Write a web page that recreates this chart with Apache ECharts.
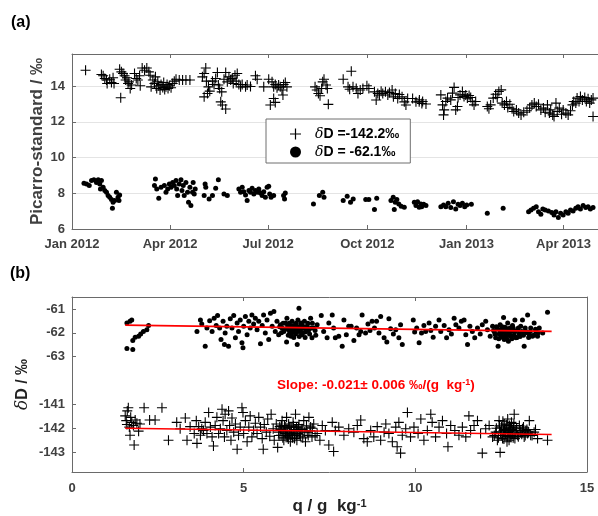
<!DOCTYPE html>
<html>
<head>
<meta charset="utf-8">
<title>Picarro-standard and δD vs q</title>
<script src="https://cdn.jsdelivr.net/npm/echarts@6/dist/echarts.min.js"></script>
<style>
  html, body { margin: 0; padding: 0; background: #fff; }
  #main { width: 598px; height: 516px; }
</style>
</head>
<body>
<div id="main"></div>
<script>
// (a) days since 2012-01-01, Picarro - standard (permil)
const plusA = [
  [12.6,14.89],[27.3,14.65],[28.9,14.58],[30.4,14.43],[32,14.34],[32.6,14.15],[35,14.39],[36.6,14.2],[38.1,14.47],[39,14.15],
  [44.2,14.95],[45.8,14.8],[45.2,13.35],[47.3,14.71],[48.8,14.58],[49.8,14.34],[51,14.47],[52,14.15],[52.8,14.24],[54,13.87],
  [55.3,14.06],[58,14.71],[59.6,14.43],[61.1,14.34],[62.7,14.58],[63.3,14.02],[65.1,15.02],[67.3,14.89],[69.4,15.02],[71.3,14.8],
  [72.5,14.61],[73.4,13.96],[75,14.34],[76.5,14.15],[77.4,14.52],[78.6,13.87],[79.6,14.24],[80.5,14.02],[81.7,13.78],[82.6,14.09],
  [84.2,13.93],[85.1,14.2],[86,13.81],[87.2,13.96],[88.2,14.09],[89.1,13.87],[90.3,14.02],[91.9,13.91],[93.4,14.15],[94.9,14.28],
  [96.5,14.39],[99.5,14.34],[102.6,14.34],[105.7,14.34],[109.4,14.34],[121,14.52],[122.6,14.71],[124.1,15.02],[124.7,14.28],[126.6,13.96],
  [127.8,13.72],[125.7,13.59],[122.6,13.4],[130.3,14.28],[131.8,14.09],[133.3,14.43],[134.9,14.76],[135.8,14.06],[137,13.87],[138.9,13.68],
  [138,13.12],[139.5,12.94],[142.6,12.72],[141,14.39],[142.6,14.76],[144.1,14.24],[145.6,14.52],[147.2,14.34],[148.7,14.43],[149.6,14.15],
  [151.2,14.61],[152.4,14.28],[153.3,14.71],[154.8,14.09],[156.4,13.96],[157.9,14.09],[161,13.96],
  [162.5,14.06],[165.6,13.98],[170.2,14.58],[171.8,14.39],[177.9,13.96],[182.5,14.39],[185.6,14.24],[187.1,13.96],[188.6,14.09],[190.2,13.91],
  [191.7,14.06],[193.2,13.96],[194.8,13.78],[196.3,14.09],[197.9,14.2],[199.4,13.96],[195.7,13.5],[187.1,13.31],[184,12.94],[188.6,13.09],
  [225.5,13.96],[227.1,13.78],[228.6,13.59],[230.1,13.46],[231.6,13.87],[232.6,14.24],[233.8,14.39],[235.7,14.06],[236.9,13.87],[237.8,12.98],
  [251.6,14.39],[259.1,14.83],[256.1,13.96],[257.6,13.83],[260.7,13.96],[263.7,13.87],[265.3,13.59],[267.4,13.78],[269.9,13.87],[273.6,14.02],
  [275.4,13.87],[280.6,13.68],[282.2,13.22],[283.7,13.59],[285.2,13.5],[286.8,13.72],[288.3,13.59],[290.8,13.68],[293,13.5],[294.5,13.65],
  [297,13.78],[298.2,13.4],[300,13.59],[302.2,13.31],[303.7,13.53],[306.2,13.4],[308.3,13.12],[309.8,12.94],[311.4,13.31],[316,13.31],
  [319.1,13.12],[322.1,13.12],[324.6,13.03],[322.3,13.23],[325.3,13.14],[328.4,13],
  [342.2,13.51],[343.8,12.95],[344.7,12.39],[345.3,12.67],[346.8,13.14],[348.4,13.33],[351.4,13.23],[353,13.61],[354.5,13.93],[356,12.67],
  [357.6,12.86],[358.2,13.36],[360,13.51],[362.2,13.7],[363.7,13.42],[365.3,13.51],[366.8,13.33],[368.4,13.48],[369.9,13.36],[371.4,13.14],
  [373,12.95],[374.5,13.14],[385.3,12.86],[386.8,12.73],[388.4,12.95],[390.8,13.33],[393,13.55],[394.5,13.36],[396,13.7],[398.2,13.79],
  [399.1,13.05],[401.2,12.95],[403.1,13.14],[404.3,12.8],[406.2,12.99],[408.3,12.73],[409.8,12.58],[412.3,12.67],[414.4,12.49],[416.6,12.39],
  [419.1,12.54],[422.1,12.62],[424.6,12.77],[426.7,12.95],[428.9,13.05],[430.7,12.86],[432.8,12.99],[435,12.67],[437.4,12.77],[439,12.54],
  [441.1,12.95],[442.9,12.49],[444.1,12.67],[446,12.39],[447.2,12.3],[449,13.05],[450.2,12.58],[452.1,12.77],[454.2,12.43],[455.7,12.67],
  [458.2,12.49],[460.3,12.39],[462.5,12.62],[464.3,12.95],[465.5,13.14],[467.4,13.05],[468.6,13.33],[470.4,13.14],[471.7,13.42],[473.5,13.23],
  [475.7,13.36],[477.2,13.14],[478.8,13.29],[480.3,13.05],[481.8,13.23],[483.4,13.33],[483.4,12.3]
];
const dotA = [
  [11.1,8.56],[13.5,8.52],[16,8.43],[18.1,8.71],[20.3,8.76],[22.7,8.61],[24.3,8.76],[25.8,8.52],[27.3,8.71],[26.4,8.24],
  [28.9,8.34],[30.4,8.15],[32,8.06],[33.5,7.87],[35,7.78],[36.6,7.65],[38.1,7.5],[37.5,7.16],[39.6,7.59],[41.2,8.06],
  [42.7,7.78],[43.6,7.59],[44.2,7.91],
  [77.4,8.8],[76.5,8.43],[78.6,8.24],[80.5,7.72],[82.6,8.34],[85.7,8.43],[87.2,8.06],[88.8,8.24],[90.3,8.52],[91.9,8.34],
  [93.4,8.61],[94.9,8.43],[96.5,8.71],[97.1,8.24],[98,7.87],[99.5,8.52],[101.1,8.76],[102,8.15],[103.2,8.43],[104.1,7.87],
  [105.7,8.61],[107.2,8.06],[108.1,7.5],[109.4,8.34],[110.3,7.31],[111.8,8.06],[112.4,8.61],[113.4,7.96],[114.3,8.24],
  [123.5,8.52],[124.1,8.34],[122.6,7.87],[127.2,7.68],[130.3,7.87],[133.3,8.28],[135.8,8.76],[141,7.96],[144.1,7.87],
  [154.8,8.24],[156.4,8.06],[157.9,8.34],[159.4,8.09],[161,7.91],[162.5,7.59],[164.1,8.15],
  [165.6,8.06],[167.1,8.28],[168.7,7.96],[170.2,8.15],[171.8,8.06],[173.3,8.24],[174.8,8.02],[176.4,7.87],[177.9,8.09],[179.4,7.78],
  [181,8.34],[182.5,8.39],[183.4,7.96],[184.7,7.78],[187.1,7.87],[196.3,7.87],[197.9,8.02],[197.2,7.68],
  [224,7.4],[229.5,7.87],[232.6,8.06],[233.8,7.78],[251.6,7.59],[255.3,7.83],[258.4,7.5],[260.9,7.68],[272.5,7.65],[275.4,7.65],
  [280.6,7.09],[282.7,7.72],[295.9,7.59],[298,7.78],[299.9,7.5],[299,7.09],[301.4,7.65],[303.2,7.4],[305.4,7.27],[308.3,7.22],
  [317.6,7.5],[319.1,7.31],[320.6,7.53],[322.1,7.22],[323.7,7.4],[324.4,7.25],[326.3,7.38],[328.4,7.31],
  [342.2,7.25],[344.7,7.35],[346.8,7.25],[349,7.44],[351.4,7.2],[353.9,7.53],[356,7.12],[358.2,7.38],[360,7.31],[362.2,7.44],
  [364.3,7.25],[366.2,7.35],[370.5,7.38],[385.3,6.88],[400,7.16],
  [423.6,6.97],[425.8,7.07],[428.2,7.16],[430.7,7.25],[432.8,6.97],[435,6.82],[436.8,7.12],[439,7.07],[442,7.01],[445.1,6.93],
  [447.2,6.78],[449,6.97],[451.2,6.64],[453.3,6.88],[455.7,6.78],[458.2,6.97],[460.3,6.88],[462.5,7.07],[464.9,7.01],[467.4,7.16],
  [469.5,7.25],[471.7,7.12],[474.2,7.31],[476.6,7.2],[478.8,7.25],[480.9,7.12],[483.4,7.2]
];

// (b) q (g/kg) vs dD (permil)
const dotB = [
  [1.6,-61.59],[1.6,-62.66],[1.69,-61.52],[1.74,-61.46],[1.77,-62.7],[1.77,-62.32],[1.84,-62.19],[1.94,-62.14],[2.0,-62.05],[2.08,-61.94],
  [2.18,-61.87],[2.23,-61.69],
  [3.64,-61.94],[3.74,-61.46],[3.78,-61.63],[3.88,-62.56],[3.93,-61.8],[4.01,-61.5],[4.08,-61.94],[4.14,-61.39],[4.2,-61.69],[4.24,-61.28],
  [4.3,-61.8],[4.34,-62.28],[4.4,-61.52],[4.44,-62.49],[4.46,-62.01],[4.51,-61.73],[4.56,-62.56],[4.61,-61.41],[4.66,-61.8],[4.71,-61.28],
  [4.76,-62.21],[4.81,-61.59],[4.85,-61.94],[4.9,-61.46],[4.95,-62.42],[4.98,-62.63],[5.0,-61.73],[5.05,-61.32],[5.1,-62.08],[5.15,-61.52],
  [5.19,-61.8],[5.24,-61.25],[5.29,-61.63],[5.34,-61.39],[5.39,-61.87],[5.44,-61.52],[5.49,-62.46],[5.54,-61.69],[5.58,-61.25],[5.63,-62.01],
  [5.68,-61.46],[5.73,-62.28],[5.78,-61.18],[5.83,-61.73],[5.88,-61.11],[5.92,-61.94],[5.97,-61.52],[6.02,-62.08],[6.07,-61.66],[6.12,-61.8],
  [6.17,-61.94],[6.22,-61.59],[6.25,-62.38],[6.26,-61.39],[6.31,-61.87],[6.34,-62.01],[6.36,-61.73],[6.38,-62.14],[6.41,-61.52],[6.44,-61.9],
  [6.48,-61.69],[6.51,-62.05],[6.54,-61.8],[6.56,-62.49],[6.58,-61.46],[6.61,-60.97],[6.63,-61.94],[6.67,-61.59],[6.7,-62.08],[6.73,-61.8],
  [6.77,-61.52],[6.8,-61.97],[6.85,-61.73],[6.9,-61.87],[6.95,-61.39],[6.99,-62.21],[7.04,-61.8],[7.14,-61.66],[7.26,-61.28],[7.33,-61.94],
  [6.05,-61.75],[6.1,-62.0],[6.15,-61.6],[6.2,-61.85],[6.28,-61.7],[6.3,-62.1],[6.33,-61.6],[6.37,-61.85],[6.4,-62.0],[6.43,-61.7],
  [6.46,-62.2],[6.5,-61.85],[6.53,-61.6],[6.57,-61.95],[6.6,-61.75],[6.62,-62.15],[6.66,-61.85],[6.69,-61.65],[6.72,-62.0],[6.76,-61.75],
  [6.79,-62.2],[6.83,-61.9],[6.87,-61.6],[6.92,-62.05],[6.97,-61.8],[7.0,-61.6],[7.08,-61.9],[7.1,-62.1],
  [7.43,-62.21],[7.48,-61.59],[7.58,-61.25],[7.62,-61.8],[7.67,-62.21],[7.77,-62.14],[7.87,-62.56],[7.92,-61.46],[7.99,-62.08],[8.06,-61.73],
  [8.13,-61.73],[8.21,-62.32],[8.29,-61.8],[8.36,-62.08],[8.41,-61.94],[8.45,-61.25],[8.55,-62.01],[8.62,-61.63],[8.68,-61.9],[8.74,-61.52],
  [8.81,-61.8],[8.87,-61.52],[8.94,-62.01],[8.99,-61.32],[9.09,-62.21],[9.17,-62.38],[9.23,-61.41],[9.28,-61.83],[9.36,-62.05],[9.43,-61.87],
  [9.52,-62.21],[9.57,-61.66],[9.62,-62.49],[9.94,-61.46],[9.98,-61.97],[10.04,-61.8],[10.11,-62.42],[10.18,-62.01],[10.25,-61.69],[10.3,-61.94],
  [10.4,-61.59],[10.45,-61.9],[10.52,-62.19],[10.59,-61.73],[10.69,-61.46],[10.74,-61.94],[10.84,-61.69],[10.91,-62.21],[10.98,-61.87],[11.05,-62.05],
  [11.13,-61.39],[11.18,-61.66],[11.27,-61.8],[11.34,-61.52],[11.42,-61.46],[11.47,-62.08],[11.52,-62.49],[11.59,-61.73],[11.66,-61.94],[11.73,-62.21],
  [11.81,-61.8],[11.89,-62.05],[11.95,-61.66],[12.05,-61.52],[12.1,-61.87],[12.18,-62.14],[12.25,-61.73],[12.3,-61.94],[12.34,-62.21],[12.39,-61.8],
  [12.41,-62.56],[12.44,-62.05],[12.47,-61.66],[12.49,-62.19],[12.51,-61.87],[12.54,-61.97],[12.57,-61.36],[12.59,-62.28],[12.61,-61.77],[12.64,-62.08],
  [12.67,-61.9],[12.69,-61.59],[12.71,-62.35],[12.74,-62.01],[12.76,-61.8],[12.78,-62.14],[12.83,-61.69],[12.86,-61.94],[12.9,-61.46],[12.93,-62.21],
  [12.98,-61.87],[13.03,-62.05],[13.07,-61.73],[13.12,-61.46],[13.17,-62.56],[13.22,-61.94],[13.27,-61.25],[13.32,-62.08],[13.36,-61.8],[13.41,-62.14],
  [13.46,-61.59],[13.51,-61.94],[13.56,-62.14],[13.61,-61.8],[13.71,-62.01],[13.85,-61.14],
  [12.28,-61.9],[12.32,-62.05],[12.36,-61.75],[12.43,-62.25],[12.46,-61.9],[12.5,-62.05],[12.53,-61.75],[12.56,-62.15],[12.6,-61.95],[12.63,-61.8],
  [12.66,-62.25],[12.7,-61.85],[12.73,-62.1],[12.77,-61.95],[12.81,-62.25],[12.85,-61.8],[12.88,-62.1],[12.92,-61.95],[12.96,-62.2],[13.0,-61.8],
  [13.05,-62.15],[13.1,-61.95],[13.15,-62.1],[13.2,-61.8],[13.25,-62.0],[13.3,-62.2],[13.35,-61.95],[13.45,-62.1],[13.5,-61.85],[13.58,-62.0]
];
const plusB = [
  [1.55,-141.48],[1.58,-141.68],[1.6,-141.84],[1.61,-141.27],[1.64,-141.14],[1.67,-141.95],[1.69,-142.29],[1.71,-141.54],[1.74,-141.75],[1.79,-141.88],
  [1.81,-142.7],[1.84,-141.65],[1.89,-141.79],[1.94,-142.12],[1.98,-141.82],[2.1,-141.14],[2.26,-141.65],[2.42,-141.65],[2.62,-141.14],[2.81,-142.5],
  [3.05,-141.75],[3.15,-142.02],[3.3,-141.57],[3.35,-142.5],[3.44,-141.93],[3.56,-142.22],[3.62,-141.68],[3.64,-142.63],[3.69,-141.93],[3.74,-142.29],
  [3.78,-142.02],[3.83,-142.09],[3.88,-141.75],[3.93,-142.22],[3.98,-141.34],[4.03,-141.95],[4.08,-142.36],[4.12,-142.74],[4.17,-141.88],[4.22,-141.54],
  [4.27,-142.22],[4.32,-142.02],[4.37,-141.2],[4.4,-141.68],[4.44,-142.36],[4.46,-141.41],[4.51,-142.09],[4.56,-141.27],[4.59,-141.88],[4.63,-142.5],
  [4.66,-141.57],[4.71,-142.16],[4.76,-141.82],[4.81,-142.88],[4.85,-142.29],[4.9,-141.95],[4.95,-141.14],[4.98,-141.34],[5.0,-142.22],[5.05,-141.68],
  [5.1,-142.56],[5.15,-141.95],[5.19,-141.48],[5.24,-142.36],[5.29,-142.09],[5.34,-141.79],[5.39,-142.22],[5.44,-141.54],[5.49,-141.95],[5.54,-142.43],
  [5.57,-142.88],[5.6,-141.84],[5.66,-142.16],[5.7,-141.61],[5.76,-142.33],[5.8,-141.41],[5.86,-142.02],[5.89,-142.5],[5.95,-141.82],[5.99,-142.8],
  [6.02,-142.16],[6.05,-141.93],[6.09,-142.29],[6.12,-141.68],[6.15,-142.09],[6.17,-142.5],[6.19,-141.88],[6.22,-142.22],[6.25,-141.54],[6.26,-142.02],
  [6.28,-142.36],[6.31,-141.82],[6.34,-142.16],[6.36,-142.56],[6.38,-141.95],[6.41,-142.29],[6.44,-141.75],[6.46,-142.09],[6.48,-142.43],[6.51,-141.41],
  [6.54,-141.95],[6.56,-142.22],[6.61,-141.84],[6.65,-142.33],[6.7,-142.02],[6.75,-141.68],[6.8,-142.56],[6.85,-142.16],[6.9,-141.54],[6.95,-141.95],
  [6.99,-142.36],[7.04,-141.82],[7.14,-142.22],[7.22,-142.5],[7.29,-141.88],[7.38,-142.09],[7.48,-142.7],
  [6.03,-142.3],[6.07,-142.05],[6.1,-141.9],[6.14,-142.4],[6.18,-142.15],[6.21,-141.95],[6.24,-142.3],[6.27,-142.1],[6.3,-142.45],[6.33,-141.95],
  [6.35,-142.25],[6.39,-142.1],[6.42,-142.4],[6.45,-141.9],[6.47,-142.2],[6.5,-142.05],[6.53,-142.3],[6.55,-142.5],[6.58,-142.1],[6.6,-141.95],
  [6.63,-142.25],[6.67,-142.05],[6.72,-142.4],[6.78,-142.15],[6.83,-141.9],[6.88,-142.3],[6.93,-142.1],[7.0,-142.0],[7.08,-142.3],
  [7.58,-141.75],[7.62,-142.97],[7.67,-142.09],[7.77,-141.95],[7.92,-142.29],[8.06,-142.02],[8.21,-142.16],[8.31,-141.88],[8.41,-141.65],[8.5,-142.43],
  [8.6,-142.56],[8.7,-142.09],[8.79,-142.36],[8.89,-141.93],[8.99,-142.5],[9.09,-142.16],[9.14,-141.82],[9.23,-142.22],[9.33,-142.56],[9.43,-141.95],
  [9.47,-142.77],[9.52,-141.75],[9.57,-143.04],[9.62,-142.29],[9.72,-142.02],[9.77,-141.34],[9.86,-142.36],[9.96,-141.95],[10.08,-142.22],[10.16,-141.61],
  [10.25,-142.5],[10.35,-142.09],[10.45,-141.41],[10.49,-141.75],[10.59,-142.36],[10.69,-141.95],[10.79,-141.68],[10.91,-142.22],[10.95,-142.77],[11.03,-141.88],
  [11.15,-142.09],[11.27,-142.29],[11.37,-141.95],[11.47,-142.36],[11.56,-141.48],[11.61,-142.09],[11.71,-141.88],[11.81,-141.68],[11.9,-142.22],[11.95,-143.04],
  [12.05,-142.02],[12.15,-141.88],[12.25,-142.36],[12.34,-142.16],[12.39,-142.5],[12.44,-141.68],[12.47,-143.01],[12.49,-142.22],[12.51,-141.95],[12.54,-142.43],
  [12.57,-142.09],[12.59,-141.82],[12.61,-142.29],[12.64,-142.02],[12.67,-142.56],[12.69,-141.61],[12.71,-142.16],[12.74,-141.88],[12.76,-142.36],[12.78,-142.09],
  [12.8,-141.75],[12.83,-142.22],[12.86,-141.95],[12.88,-141.41],[12.9,-142.43],[12.93,-142.09],[12.98,-142.29],[13.03,-141.88],[13.07,-142.16],[13.12,-142.02],
  [13.17,-142.36],[13.22,-142.09],[13.27,-142.22],[13.32,-141.68],[13.36,-142.29],[13.46,-142.16],[13.56,-142.43],[13.85,-142.5],
  [12.3,-142.3],[12.36,-142.0],[12.42,-142.4],[12.45,-141.9],[12.48,-142.15],[12.52,-142.3],[12.55,-141.7],[12.58,-142.45],[12.6,-142.05],[12.63,-142.2],
  [12.65,-141.85],[12.68,-142.35],[12.7,-142.0],[12.73,-142.5],[12.75,-142.15],[12.77,-141.95],[12.79,-142.3],[12.82,-142.05],[12.85,-142.4],[12.87,-141.8],
  [12.9,-142.2],[12.95,-142.0],[13.0,-142.35],[13.05,-142.1],[13.1,-142.25],[13.15,-141.95],[13.2,-142.3],[13.25,-142.05],[13.3,-142.15],[13.4,-142.3],
  [13.5,-142.05]
];

// fitted lines in (b)
const fitQ = [1.55, 13.97];
const fitTop = [-61.68, -61.94];
const fitBot = [-142.0, -142.26];

// axis ticks
const monthTicks = ['2012-01-01', '2012-04-01', '2012-07-01', '2012-10-01', '2013-01-01', '2013-04-01'];
const yTicksA = [6, 8, 10, 12, 14];
const qTicks = [0, 5, 10, 15];
const dDTicks = [-61, -62, -63, -141, -142, -143];

const T0 = Date.UTC(2012, 0, 1);
const DAY = 86400000;
const GAP = 76; // closes the axis break between -63 and -141
const shift = v => (v < -100 ? v + GAP : v);
const FONT = 'Arial, "Liberation Sans", Helvetica, sans-serif';
const GREY = '#404040';
const AXIS = '#6a6a6a';
const PLUS = 'path://M4.45,0H5.55V4.45H10V5.55H5.55V10H4.45V5.55H0V4.45H4.45Z';
const MON = ['Jan', 'Feb', 'Mar', 'Apr', 'May', 'Jun', 'Jul', 'Aug', 'Sep', 'Oct', 'Nov', 'Dec'];
// x of panel (a) counts days since 2012-01-01
const tickDays = monthTicks.map(s => Math.round((Date.parse(s + 'T00:00:00Z') - T0) / DAY));
const dayLabel = d => { const t = new Date(T0 + d * DAY); return MON[t.getUTCMonth()] + ' ' + t.getUTCFullYear(); };
const lastDay = (Date.UTC(2013, 4, 3) - T0) / DAY;

const labelStyle = { color: GREY, fontWeight: 'bold', fontSize: 13, fontFamily: FONT };
const line = { show: true, onZero: false, lineStyle: { color: AXIS, width: 1 } };

const chart = echarts.init(document.getElementById('main'));
chart.setOption({
  animation: false,
  textStyle: { fontFamily: FONT },
  grid: [
    { left: 72, right: 0, top: 54, height: 175 },
    { left: 72, right: 11, top: 297, height: 176 }
  ],
  xAxis: [
    {
      type: 'value', gridIndex: 0, min: 0, max: lastDay,
      axisLine: line,
      axisTick: { inside: true, length: 4, customValues: tickDays, lineStyle: { color: AXIS } },
      axisLabel: Object.assign({ margin: 9, customValues: tickDays, formatter: dayLabel }, labelStyle),
      splitLine: { show: false }
    },
    {
      type: 'value', gridIndex: 0, position: 'top', min: 0, max: lastDay,
      axisLine: line,
      axisTick: { inside: true, length: 4, customValues: tickDays, lineStyle: { color: AXIS } },
      axisLabel: { show: false }, splitLine: { show: false }
    },
    {
      type: 'value', gridIndex: 1, min: 0, max: 15, interval: 5,
      axisLine: line,
      axisTick: { inside: true, length: 4, customValues: qTicks, lineStyle: { color: AXIS } },
      axisLabel: Object.assign({ margin: 10, customValues: qTicks }, labelStyle),
      splitLine: { show: false },
      name: '{b|q / g  kg}{s|-1}', nameLocation: 'middle', nameGap: 26,
      nameTextStyle: { rich: {
        b: { fontSize: 17, fontWeight: 'bold', color: '#222', fontFamily: FONT },
        s: { fontSize: 11, fontWeight: 'bold', color: '#222', fontFamily: FONT, verticalAlign: 'top' }
      } }
    },
    {
      type: 'value', gridIndex: 1, position: 'top', min: 0, max: 15, interval: 5,
      axisLine: line,
      axisTick: { inside: true, length: 4, customValues: qTicks, lineStyle: { color: AXIS } },
      axisLabel: { show: false }, splitLine: { show: false }
    }
  ],
  yAxis: [
    {
      type: 'value', gridIndex: 0, min: 6, max: 15.8, interval: 2,
      axisLine: line,
      axisTick: { inside: true, length: 4, customValues: yTicksA, lineStyle: { color: AXIS } },
      axisLabel: Object.assign({ margin: 7, customValues: yTicksA }, labelStyle),
      splitLine: { show: true, lineStyle: { color: '#e4e4e4', width: 1 } },
      name: 'Picarro-standard / ‰', nameLocation: 'middle', nameGap: 26, nameMoveOverlap: false,
      nameTextStyle: { color: GREY, fontWeight: 'bold', fontSize: 17, fontFamily: FONT }
    },
    {
      type: 'value', gridIndex: 0, position: 'right', min: 6, max: 15.8,
      axisLine: line, axisTick: { show: false }, axisLabel: { show: false }, splitLine: { show: false }
    },
    {
      type: 'value', gridIndex: 1, min: -67.83, max: -60.5,
      axisLine: line,
      axisTick: { inside: true, length: 4, customValues: dDTicks.map(shift), lineStyle: { color: AXIS } },
      axisLabel: Object.assign({ margin: 7, customValues: dDTicks.map(shift),
        formatter: v => String(Math.round(v < -63.5 ? v - GAP : v)) }, labelStyle),
      splitLine: { show: false },
      name: '{i|δ}{b|D / ‰}', nameLocation: 'middle', nameGap: 41, nameMoveOverlap: false,
      nameTextStyle: { rich: {
        i: { fontSize: 17, fontStyle: 'italic', color: '#222', fontFamily: '"DejaVu Serif", serif' },
        b: { fontSize: 16, fontWeight: 'bold', color: '#222', fontFamily: FONT }
      } }
    },
    {
      type: 'value', gridIndex: 1, position: 'right', min: -67.83, max: -60.5,
      axisLine: line, axisTick: { show: false }, axisLabel: { show: false }, splitLine: { show: false }
    }
  ],
  legend: {
    data: [{ name: 'δD =-142.2‰', icon: PLUS }, { name: 'δD = -62.1‰', icon: 'circle' }],
    orient: 'vertical', left: 266, top: 119,
    padding: [8, 11, 4, 24], itemGap: 4, itemWidth: 11, itemHeight: 11,
    borderColor: '#6e6e6e', borderWidth: 1, backgroundColor: '#fff', selectedMode: false,
    formatter: n => '{i|δ}{b|' + n.slice(1) + '}',
    textStyle: { rich: {
      i: { fontSize: 14, fontStyle: 'italic', color: '#000', fontFamily: '"DejaVu Serif", serif', padding: [0, 0, 0, 9] },
      b: { fontSize: 14, fontWeight: 'bold', color: '#000', fontFamily: FONT }
    } }
  },
  graphic: [
    { type: 'text', left: 11, top: 15, style: { text: '(a)', font: 'bold 16px ' + FONT, fill: '#000' } },
    { type: 'text', left: 10, top: 266, style: { text: '(b)', font: 'bold 16px ' + FONT, fill: '#000' } },
    { type: 'text', left: 277, top: 378, style: {
      text: '{t|Slope: -0.021± 0.006 ‰/(g  kg}{s|-1}{t|)}',
      rich: {
        t: { fontSize: 13.5, fontWeight: 'bold', fill: '#ff0000', fontFamily: FONT },
        s: { fontSize: 9, fontWeight: 'bold', fill: '#ff0000', fontFamily: FONT, verticalAlign: 'top' }
      } } }
  ],
  series: [
    {
      name: 'δD =-142.2‰', type: 'scatter', xAxisIndex: 0, yAxisIndex: 0,
      symbol: PLUS, symbolSize: 10, itemStyle: { color: '#000', opacity: 1 },
      data: plusA
    },
    {
      name: 'δD = -62.1‰', type: 'scatter', xAxisIndex: 0, yAxisIndex: 0,
      symbol: 'circle', symbolSize: 5, itemStyle: { color: '#000', opacity: 1 },
      data: dotA
    },
    {
      name: 'dotB', type: 'scatter', xAxisIndex: 2, yAxisIndex: 2,
      symbol: 'circle', symbolSize: 5, itemStyle: { color: '#000', opacity: 1 },
      data: dotB.map(p => [p[0], shift(p[1])])
    },
    {
      name: 'plusB', type: 'scatter', xAxisIndex: 2, yAxisIndex: 2,
      symbol: PLUS, symbolSize: 10, itemStyle: { color: '#000', opacity: 1 },
      data: plusB.map(p => [p[0], shift(p[1])])
    },
    {
      name: 'fitTop', type: 'line', xAxisIndex: 2, yAxisIndex: 2, symbol: 'none', z: 5,
      lineStyle: { color: '#ff0000', width: 1.6 },
      data: fitQ.map((q, i) => [q, shift(fitTop[i])])
    },
    {
      name: 'fitBot', type: 'line', xAxisIndex: 2, yAxisIndex: 2, symbol: 'none', z: 5,
      lineStyle: { color: '#ff0000', width: 1.6 },
      data: fitQ.map((q, i) => [q, shift(fitBot[i])])
    }
  ]
});
</script>
</body>
</html>
